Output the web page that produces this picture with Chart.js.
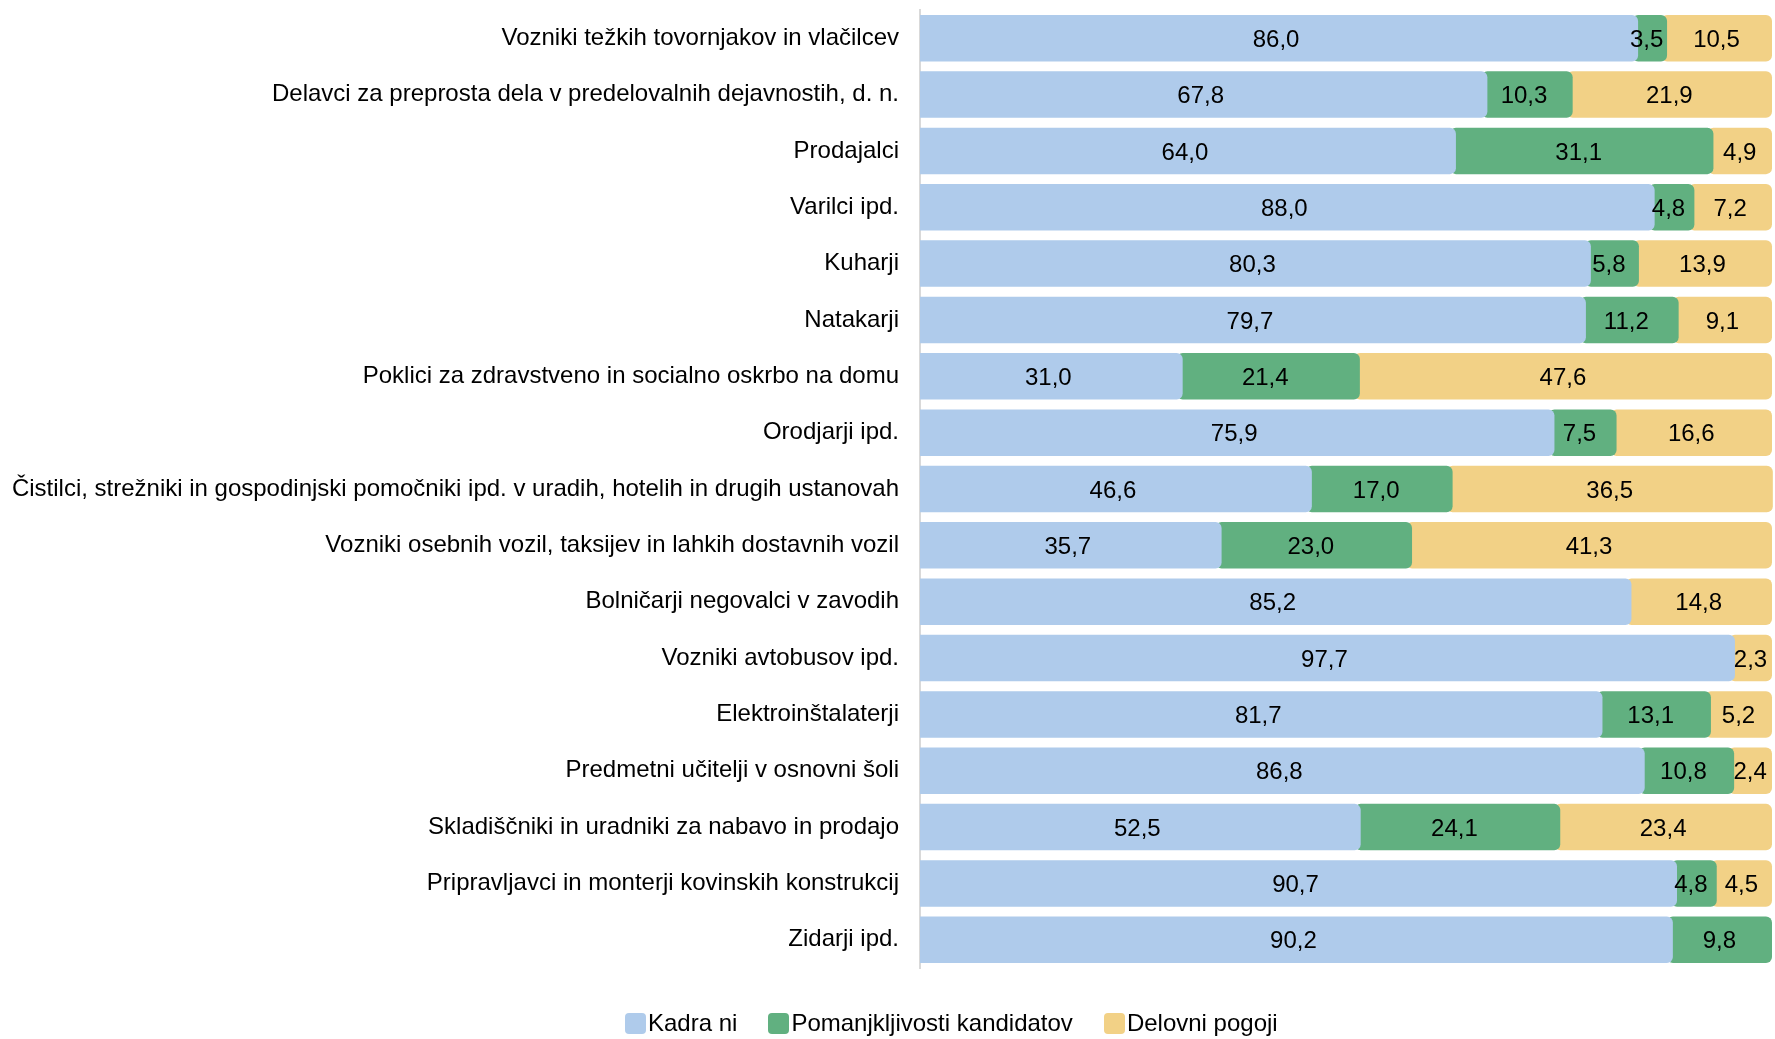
<!DOCTYPE html>
<html>
<head>
<meta charset="utf-8">
<script src="https://cdn.jsdelivr.net/npm/chart.js@4"></script>
<style>
body{margin:0;background:#fff;font-family:'Liberation Sans',Arial,sans-serif;}
#wrap{position:relative;width:1775px;height:1039px;}
#legend{position:absolute;left:625px;top:1009px;display:flex;align-items:center;font-size:24px;color:#000;}
#legend .it{display:flex;align-items:center;margin-right:31px;}
#legend .bx{width:21px;height:21px;border-radius:4px;margin-right:2px;}
</style>
</head>
<body>
<div id="wrap"><canvas id="c"></canvas><div id="legend"></div></div>
<script>
/* ===== 資料 ===== */
const cats=['Vozniki težkih tovornjakov in vlačilcev','Delavci za preprosta dela v predelovalnih dejavnostih, d. n.','Prodajalci','Varilci ipd.','Kuharji','Natakarji','Poklici za zdravstveno in socialno oskrbo na domu','Orodjarji ipd.','Čistilci, strežniki in gospodinjski pomočniki ipd. v uradih, hotelih in drugih ustanovah','Vozniki osebnih vozil, taksijev in lahkih dostavnih vozil','Bolničarji negovalci v zavodih','Vozniki avtobusov ipd.','Elektroinštalaterji','Predmetni učitelji v osnovni šoli','Skladiščniki in uradniki za nabavo in prodajo','Pripravljavci in monterji kovinskih konstrukcij','Zidarji ipd.'];
const kadraNi=[86.0,67.8,64.0,88.0,80.3,79.7,31.0,75.9,46.6,35.7,85.2,97.7,81.7,86.8,52.5,90.7,90.2];
const pomanjkljivosti=[3.5,10.3,31.1,4.8,5.8,11.2,21.4,7.5,17.0,23.0,0,0,13.1,10.8,24.1,4.8,9.8];
const delovniPogoji=[10.5,21.9,4.9,7.2,13.9,9.1,47.6,16.6,36.5,41.3,14.8,2.3,5.2,2.4,23.4,4.5,0];
const names=['Kadra ni','Pomanjkljivosti kandidatov','Delovni pogoji'];
const cols=['#AFCBEB','#61B080','#F2D186'];

const FONT="'Liberation Sans', Arial, sans-serif";
const fmt=v=>v.toFixed(1).replace('.',',');
const R=6,CAP=24;

/* 分段重疊（圓角蓋住前一段）＋ 最後一段延伸 */
const overlap={id:'overlap',afterDatasetsUpdate(ch){
  const ds=ch.data.datasets;
  cats.forEach((_,j)=>{
    let last=-1;ds.forEach((d,i)=>{if(d.data[j])last=i;});
    ds.forEach((d,i)=>{if(!d.data[j])return;
      const el=ch.getDatasetMeta(i).data[j];el.$ox=el.x;el.x+=(i===last?CAP:R);el.$last=i===last;});
  });
}};

/* 數值標籤 */
const valLabels={id:'valLabels',afterDatasetsDraw(ch){
  const c=ch.ctx;c.save();c.font='24px '+FONT;c.fillStyle='#000';c.textAlign='center';c.textBaseline='middle';
  ch.data.datasets.forEach((ds,i)=>{ch.getDatasetMeta(i).data.forEach((b,j)=>{
    const v=ds.data[j];if(!v)return;
    const end=b.$last?b.x:b.$ox;
    c.fillText(fmt(v),(end+b.base)/2,b.y+2);
  });});
  c.restore();
}};

const mk=(d,i)=>({label:names[i],data:d,backgroundColor:cols[i],
  borderRadius:{topLeft:i?R:0,bottomLeft:i?R:0,topRight:R,bottomRight:R},borderSkipped:false,
  barPercentage:0.825,categoryPercentage:1,clip:false});

new Chart(document.getElementById('c'),{type:'bar',
  data:{labels:cats,datasets:[mk(kadraNi,0),mk(pomanjkljivosti,1),mk(delovniPogoji,2)]},
  options:{indexAxis:'y',responsive:true,maintainAspectRatio:false,animation:false,
    layout:{padding:{left:0,right:27,top:10,bottom:71}},
    plugins:{legend:{display:false},tooltip:{enabled:false}},
    scales:{
      x:{stacked:true,min:0,max:100,display:false},
      y:{stacked:true,grid:{display:false,drawTicks:false},border:{display:true,color:'#d9d9d9',width:2},
        ticks:{color:'#000',padding:21,font:{family:FONT,size:24}},
        afterFit(s){s.width=920;s.paddingTop=0;s.paddingBottom=0;}}
    }},
  plugins:[overlap,valLabels]});

/* 圖例 */
const lg=document.getElementById('legend');
names.forEach((n,i)=>{const d=document.createElement('div');d.className='it';d.innerHTML=`<span class="bx" style="background:${cols[i]}"></span>${n}`;lg.appendChild(d);});
</script>
</body>
</html>
